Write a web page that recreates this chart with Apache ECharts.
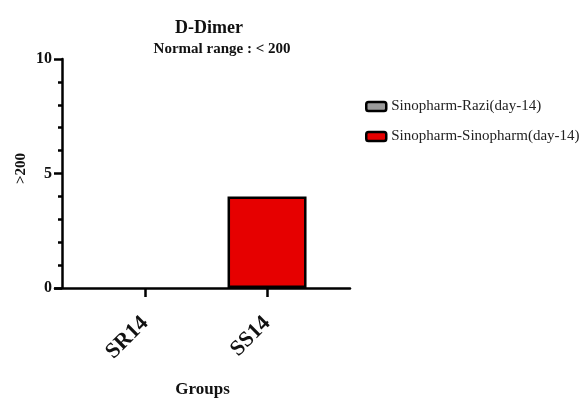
<!DOCTYPE html>
<html><head><meta charset="utf-8">
<script src="https://cdn.jsdelivr.net/npm/echarts@6/dist/echarts.min.js"></script>
<style>html,body{margin:0;padding:0;background:#fff}#c{width:585px;height:398px}</style>
</head><body><div id="c"></div>
<script>
const categories = ['SR14', 'SS14'];
const seriesNames = ['Sinopharm-Razi(day-14)', 'Sinopharm-Sinopharm(day-14)'];
const razi = [0];      // SR14
const sinopharm = [4]; // SS14
const yTicks = [0, 5, 10];

const FONT = '"Liberation Serif","Times New Roman",serif';
const chart = echarts.init(document.getElementById('c'));
chart.setOption({
  animation: false,
  backgroundColor: '#fff',
  title: [
    {text: 'D-Dimer', left: 204, top: 14, textAlign: 'center',
     textStyle: {fontFamily: FONT, fontWeight: 'bold', fontSize: 18, color: '#111'}},
    {text: 'Normal range : < 200', left: 217, top: 37, textAlign: 'center',
     textStyle: {fontFamily: FONT, fontWeight: 'bold', fontSize: 15, color: '#111'}}
  ],
  legend: {
    orient: 'vertical', left: 360, top: 94, itemWidth: 20, itemHeight: 9, itemGap: 15,
    itemStyle: {borderColor: '#000', borderWidth: 2.5},
    textStyle: {fontFamily: FONT, fontSize: 15, color: '#222'},
    data: seriesNames
  },
  grid: {left: 55, right: 235, top: 59, bottom: 110, containLabel: false, outerBoundsMode: 'none'},
  xAxis: {
    type: 'value', min: 0.262, max: 2.68,
    name: 'Groups', nameLocation: 'middle', nameGap: 93,
    nameTextStyle: {fontFamily: FONT, fontWeight: 'bold', fontSize: 17, color: '#111'},
    axisLine: {show: true, onZero: false, lineStyle: {color: '#000', width: 2.5}},
    axisTick: {show: true, customValues: [1, 2], length: 9, lineStyle: {color: '#000', width: 2.5}},
    axisLabel: {customValues: [1, 2], rotate: 45, margin: 32,
      formatter: v => categories[Math.round(v) - 1] || '',
      fontFamily: FONT, fontWeight: 'bold', fontSize: 22, color: '#111'},
    splitLine: {show: false}
  },
  yAxis: {
    type: 'value', min: 0, max: 10, interval: 5, offset: -7,
    name: '>200', nameLocation: 'middle', nameGap: 33, nameRotate: 90, nameMoveOverlap: false,
    nameTextStyle: {fontFamily: FONT, fontWeight: 'bold', fontSize: 15, color: '#111', padding: [0, 0, 0, 10]},
    axisLine: {show: true, lineStyle: {color: '#000', width: 2.5}},
    axisTick: {show: true, length: 8, lineStyle: {color: '#000', width: 2.5}},
    minorTick: {show: true, splitNumber: 5, length: 4, lineStyle: {color: '#000', width: 2.5}},
    axisLabel: {margin: 10, fontFamily: FONT, fontWeight: 'bold', fontSize: 16, color: '#111',
      formatter: v => yTicks.includes(v) ? String(v) : ''},
    splitLine: {show: false}
  },
  series: [
    {name: seriesNames[0], type: 'bar', barWidth: 79, barGap: '-100%',
     data: razi.map(v => [1, v]),
     itemStyle: {color: '#9a9a9a', borderColor: '#000', borderWidth: 0}},
    {name: seriesNames[1], type: 'bar', barWidth: 79, barGap: '-100%',
     data: sinopharm.map(v => [2, v]),
     itemStyle: {color: '#e60000', borderColor: '#000', borderWidth: 2.5}}
  ]
});
</script></body></html>
